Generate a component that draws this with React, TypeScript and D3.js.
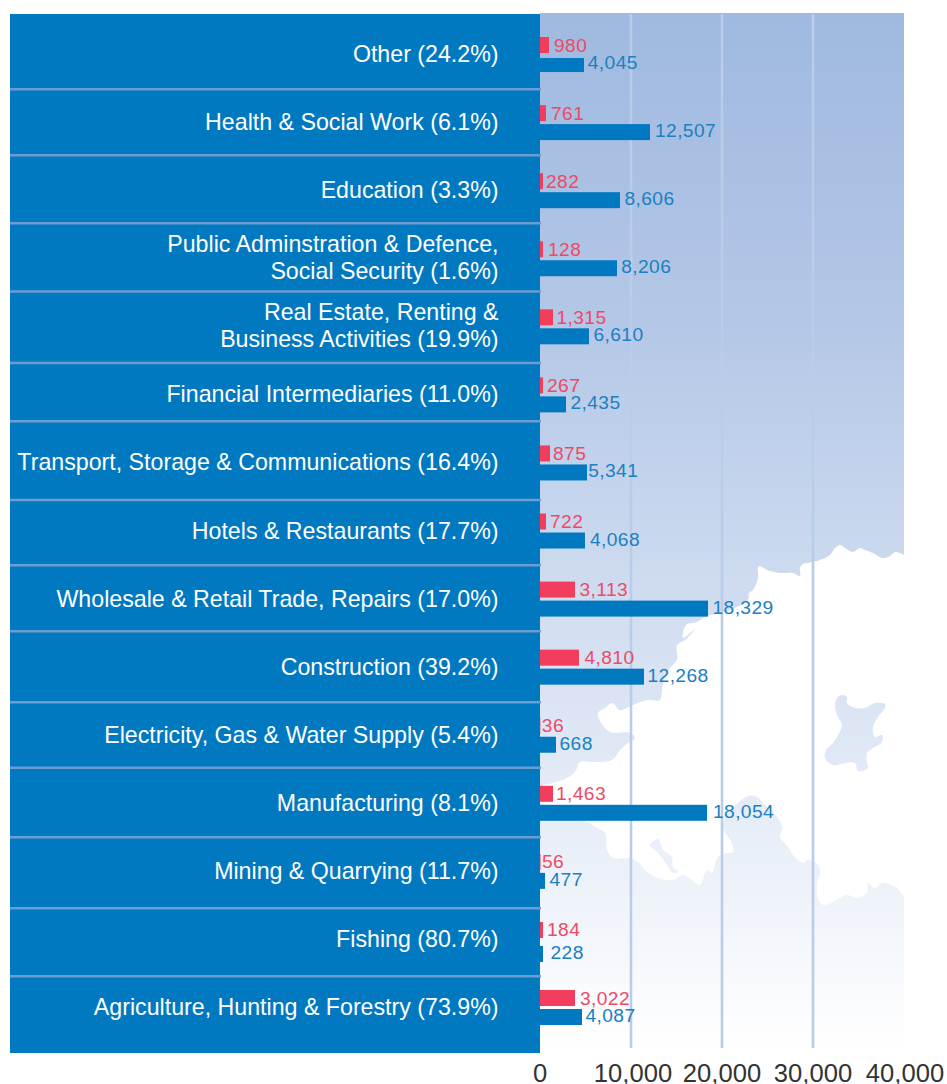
import React from "react";
import * as d3 from "d3";

const categories: string[][] = [
  ["Other (24.2%)"],
  ["Health & Social Work (6.1%)"],
  ["Education (3.3%)"],
  ["Public Adminstration & Defence,", "Social Security (1.6%)"],
  ["Real Estate, Renting &", "Business Activities (19.9%)"],
  ["Financial Intermediaries (11.0%)"],
  ["Transport, Storage & Communications (16.4%)"],
  ["Hotels & Restaurants (17.7%)"],
  ["Wholesale & Retail Trade, Repairs (17.0%)"],
  ["Construction (39.2%)"],
  ["Electricity, Gas & Water Supply (5.4%)"],
  ["Manufacturing (8.1%)"],
  ["Mining & Quarrying (11.7%)"],
  ["Fishing (80.7%)"],
  ["Agriculture, Hunting & Forestry (73.9%)"],
];
// Printed figures
const redLabels = [980, 761, 282, 128, 1315, 267, 875, 722, 3113, 4810, 36, 1463, 56, 184, 3022];
const blueLabels = [4045, 12507, 8606, 8206, 6610, 2435, 5341, 4068, 18329, 12268, 668, 18054, 477, 228, 4087];
// Bar lengths as drawn in the picture (they differ from the printed figures)
const redBars = [989, 659, 330, 330, 1429, 330, 1099, 659, 3846, 4286, 36, 1429, 56, 330, 3846];
const blueBars = [4835, 12088, 8791, 8462, 5385, 2857, 5165, 4945, 18462, 11429, 1758, 18352, 549, 330, 4615];
const xTicks = [0, 10000, 20000, 30000, 40000];
const gridTicks = [10000, 20000, 30000];

// Layout
const PANEL = { x: 10, right: 540, top: 14, bottom: 1053 };
const rules = [89.3, 155.3, 223.2, 291.5, 363, 421.2, 500, 565.2, 631.2, 702.2, 767.7, 837.2, 908.2, 976.2];
const redGap = [5, 5, 3, 5, 3.5, 4, 3, 4, 4.5, 5.5, 1.5, 3, 1.5, 4, 5];
const blueGap = [3.8, 5, 4.5, 4.2, 4.5, 4.5, 1.2, 5, 4.5, 3.5, 3.5, 6, 4.5, 7.5, 3.5];
const blueShift: Record<number, number> = { 0: 2, 13: 5 };

// Backdrop map outlines
type Pt = [number, number];
const land: Pt[] = [
  [904,555],[900,553],[895,552],[890,556],[882,558],[873,553],[865,550],[860,548],[853,552],[845,548],[840,545],[835,548],[830,555],[820,560],[812,562],[803,564],[800,568],[800,576],[793,573],[780,573],[767,570],[760,566],[758,567],[758,578],[753,590],[749,593],[748,600],[730,610],[705,617],[697,622],[686,625],[683,638],[695,629],[685,640],[677,645],[677,660],[670,668],[664,680],[662,690],[660,700],[647,700],[633,705],[620,710],[612,703],[605,708],[598,713],[601,723],[610,732],[630,733],[635,738],[628,743],[620,750],[612,760],[592,762],[580,762],[575,772],[567,778],[553,783],[540,787],[540,802],[575,820],[587,822],[597,828],[605,833],[607,850],[613,858],[630,858],[638,862],[647,872],[658,878],[673,880],[683,875],[692,880],[700,885],[707,870],[712,873],[718,857],[727,853],[733,852],[732,843],[725,833],[723,827],[725,818],[738,803],[748,796],[757,797],[765,805],[777,817],[782,827],[780,837],[788,847],[793,855],[803,863],[808,860],[818,865],[820,873],[817,883],[818,898],[823,905],[833,902],[847,895],[857,898],[867,893],[868,883],[875,888],[882,883],[895,887],[904,896],
];
const lake: Pt[] = [
  [650,845],[658,839],[663,850],[672,857],[673,867],[678,872],[673,873],[667,865],[658,853],
];
const island: Pt[] = [
  [842,695],[847,697],[847,703],[855,708],[865,708],[875,703],[885,704],[885,708],[878,717],[873,727],[875,737],[882,735],[882,742],[873,748],[867,753],[867,763],[868,768],[858,771],[855,763],[845,763],[833,765],[825,758],[826,750],[833,743],[838,735],[842,725],[838,717],[835,707],[837,698],
];

const BLUE = "#0079c1";
const RED = "#f23e5c";
const LABEL_BLUE = "#1a80c4";
const LABEL_RED = "#ee4a66";

export default function App() {
  const x = d3.scaleLinear().domain([0, 40000]).range([540, 904]);
  const rowKeys = categories.map((_, i) => String(i));
  const y = d3.scaleBand().domain(rowKeys).range([20, 20 + 68.07 * 15]);
  const centre = (i: number) => (y(String(i)) as number) + y.bandwidth() / 2;
  const fmt = d3.format(",");
  const sans = "'Liberation Sans', Arial, sans-serif";
  const outline = d3.line<Pt>().curve(d3.curveCatmullRom.alpha(0.5));
  const closedOutline = d3.line<Pt>().curve(d3.curveCatmullRomClosed.alpha(0.5));

  return (
    <svg width={947} height={1084} style={{ position: "absolute", left: 0, top: 0, display: "block" }}>
      <defs>
        <linearGradient id="sea" gradientUnits="userSpaceOnUse" x1={0} y1={13} x2={0} y2={1053}>
          <stop offset="0" stopColor="#9fb9e0" />
          <stop offset="0.3" stopColor="#b4c7e6" />
          <stop offset="0.52" stopColor="#cbd9ef" />
          <stop offset="0.77" stopColor="#e6edf7" />
          <stop offset="1" stopColor="#ffffff" />
        </linearGradient>
      </defs>
      <rect x={540} y={13} width={364} height={1040} fill="url(#sea)" />
      <path d={(outline(land) as string) + "Z"} fill="#fff" />
      <path d={closedOutline(lake) as string} fill="url(#sea)" />
      <path d={closedOutline(island) as string} fill="url(#sea)" />

      {gridTicks.map((t) => (
        <line key={t} x1={x(t)} x2={x(t)} y1={14} y2={1048} stroke="#b9cde9" strokeWidth={2.6} />
      ))}

      <rect x={PANEL.x} y={PANEL.top} width={PANEL.right - PANEL.x} height={PANEL.bottom - PANEL.top} fill={BLUE} />
      {rules.map((r) => (
        <line key={r} x1={PANEL.x} x2={541} y1={r} y2={r} stroke="#6b9dd2" strokeWidth={2.6} />
      ))}

      {categories.map((lines, i) => (
        <text key={i} textAnchor="end" fill="#fff" fontFamily={sans} fontSize={23.2} transform={`translate(498.5,${centre(i)})`}>
          {lines.map((l, k) => (
            <tspan key={k} x={0} y={(k - (lines.length - 1) / 2) * 27 + 8 - (lines.length > 1 ? 1 : 0)}>{l}</tspan>
          ))}
        </text>
      ))}

      {categories.map((_, i) => {
        const c = centre(i);
        const shift = blueShift[i] || 0;
        return (
          <g key={i}>
            <rect x={x(0)} y={c - 17} width={x(redBars[i]) - x(0)} height={16} fill={RED} />
            <rect x={x(0)} y={c + 2 + shift} width={x(blueBars[i]) - x(0)} height={i === 0 ? 14 : 16} fill={BLUE} />
            <text x={x(redBars[i]) + redGap[i]} y={c - 2.5} fill={LABEL_RED} fontFamily={sans} fontSize={19.2} letterSpacing={0.4}>
              {fmt(redLabels[i])}
            </text>
            <text x={x(blueBars[i]) + blueGap[i]} y={c + 15 + (i === 13 ? 5 : 0)} fill={LABEL_BLUE} fontFamily={sans} fontSize={19.2} letterSpacing={0.4}>
              {fmt(blueLabels[i])}
            </text>
          </g>
        );
      })}

      {xTicks.map((t) => (
        <text key={t} x={x(t) + (t === 10000 ? 2 : t === 40000 ? 1 : 0)} y={1082} textAnchor="middle" fill="#333" fontFamily={sans} fontSize={25.6}>
          {fmt(t)}
        </text>
      ))}
    </svg>
  );
}
